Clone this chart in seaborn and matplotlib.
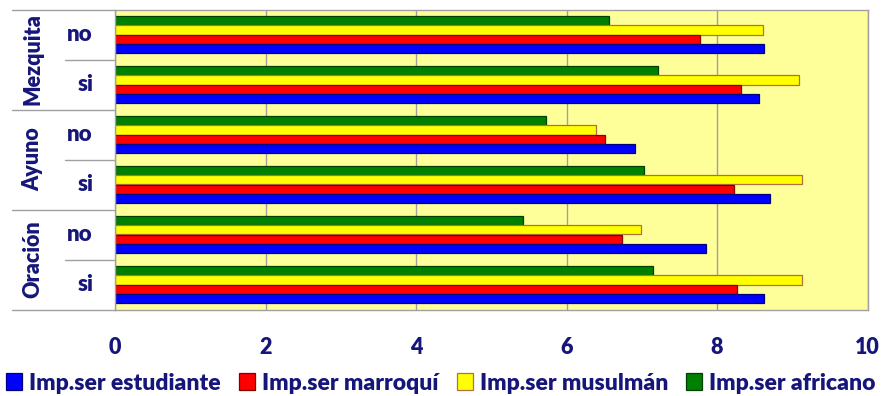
import matplotlib
matplotlib.use('Agg')
import matplotlib.pyplot as plt
import matplotlib.transforms as mtransforms
from matplotlib.patches import Patch
import seaborn as sns
import pandas as pd

# ---- data ----
groups = ['Mezquita', 'Mezquita', 'Ayuno', 'Ayuno', 'Oración', 'Oración']
answers = ['no', 'si', 'no', 'si', 'no', 'si']
estudiante = [8.63, 8.56, 6.91, 8.70, 7.85, 8.63]
marroqui = [7.78, 8.32, 6.51, 8.23, 6.74, 8.27]
musulman = [8.61, 9.09, 6.39, 9.13, 6.99, 9.13]
africano = [6.56, 7.21, 5.73, 7.03, 5.42, 7.15]
series_names = ['Imp.ser estudiante', 'Imp.ser marroquí', 'Imp.ser musulmán', 'Imp.ser africano']
x_ticks = [0, 2, 4, 6, 8, 10]

# ---- styles ----
face = {'Imp.ser estudiante': '#0000FF', 'Imp.ser marroquí': '#FF0000',
        'Imp.ser musulmán': '#FFFF00', 'Imp.ser africano': '#008000'}
edge = {'Imp.ser estudiante': '#000080', 'Imp.ser marroquí': '#800000',
        'Imp.ser musulmán': '#B07040', 'Imp.ser africano': '#004000'}
navy = '#16167A'
grey = '#A0A0A0'
W = 'heavy'

sns.set_style('white')
plt.rcParams['font.family'] = ['Lato', 'DejaVu Sans']

cats = [f'{g} {a}' for g, a in zip(groups, answers)]
rows = []
for name, vals in zip(series_names, [estudiante, marroqui, musulman, africano]):
    for c, v in zip(cats, vals):
        rows.append({'cat': c, 'value': v, 'series': name})
df = pd.DataFrame(rows)

fig = plt.figure(figsize=(8.82, 3.96), dpi=100)
ax = fig.add_axes([115 / 882, 1 - 309.5 / 396, 752.5 / 882, 300 / 396])
ax.set_facecolor('#FFFF99')

hue_order = series_names[::-1]  # top to bottom: africano, musulmán, marroquí, estudiante
sns.barplot(data=df, y='cat', x='value', hue='series', hue_order=hue_order,
            order=cats, palette=face, saturation=1, width=0.74, orient='h',
            ax=ax, legend=False, errorbar=None)
for cont, name in zip(ax.containers, hue_order):
    for p in cont:
        p.set_edgecolor(edge[name])
        p.set_linewidth(0.9)

ax.set_xlim(0, 10)
ax.set_ylim(5.5, -0.5)
ax.set_xticks(x_ticks)
ax.set_xticklabels([str(t) for t in x_ticks], fontsize=15.5, fontweight=W, color=navy)
ax.tick_params(axis='x', length=6, color=grey, pad=14)
ax.set_yticks([])
ax.set_xlabel('')
ax.set_ylabel('')
ax.xaxis.grid(True, color=grey, lw=1)
ax.set_axisbelow(True)
for s in ax.spines.values():
    s.set_color(grey)
    s.set_linewidth(1)
    s.set_visible(True)

# multi-level category axis
trans = mtransforms.blended_transform_factory(ax.transAxes, ax.transData)
ax_w = 752.5
for i, a in enumerate(answers):
    ax.text(-22 / ax_w, i, a, transform=trans, ha='right', va='center',
            fontsize=16, fontweight=W, color=navy)
for yb in [0.5, 2.5, 4.5]:
    ax.plot([-50 / ax_w, 0], [yb, yb], transform=trans, color=grey, lw=1, clip_on=False)
for yb in [-0.5, 1.5, 3.5, 5.5]:
    ax.plot([-103 / ax_w, 0], [yb, yb], transform=trans, color=grey, lw=1, clip_on=False)
for gi, g in enumerate(['Mezquita', 'Ayuno', 'Oración']):
    ax.text(-82 / ax_w, 2 * gi + 0.5, g, transform=trans, ha='center', va='center',
            rotation=90, fontsize=15.5, fontweight=W, color=navy)

handles = [Patch(facecolor=face[n], edgecolor=edge[n], lw=0.9) for n in series_names]
leg = fig.legend(handles, series_names, loc='center', bbox_to_anchor=(0.5, 1 - 383 / 396),
                 ncol=4, frameon=False, handlelength=0.7, handleheight=0.7,
                 handletextpad=0.3, columnspacing=0.8,
                 prop={'size': 16.5, 'weight': W})
for t in leg.get_texts():
    t.set_color(navy)

fig.savefig('out.png', dpi=100, facecolor='white')
